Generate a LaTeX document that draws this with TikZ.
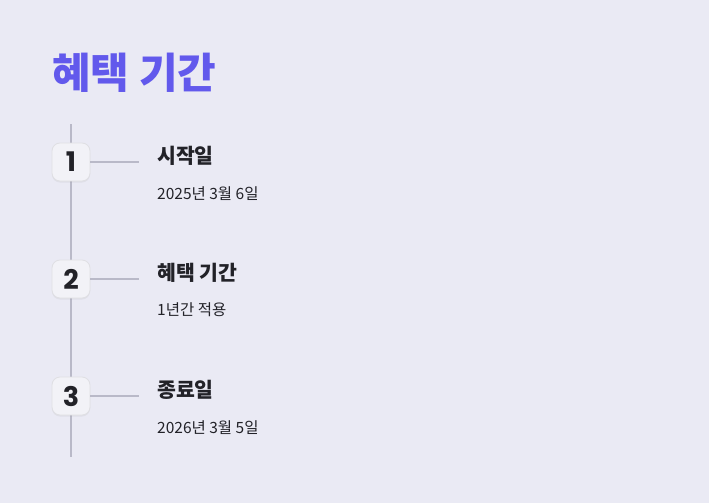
\documentclass[tikz,border=0pt]{standalone}
\usepackage{fontspec, xcolor}
\setmainfont{Noto Sans CJK KR}
\newfontfamily\numfont{Poppins}
\usetikzlibrary{shadows}
\definecolor{pagebg}{HTML}{EAEAF4}
\definecolor{titlecol}{HTML}{6259EC}
\definecolor{linecol}{HTML}{B9B9C8}
\definecolor{boxcol}{HTML}{F2F2F7}
\definecolor{textcol}{HTML}{222228}
\tikzset{
    numbox/.style={draw=boxcol!92!black, fill=boxcol, rounded corners=8pt, minimum width=38pt, minimum height=38pt, inner sep=0pt, line width=0.8pt, drop shadow={opacity=0.10, shadow xshift=0pt, shadow yshift=-1.5pt}, font=\numfont\bfseries\fontsize{27}{27}\selectfont, text=textcol},
    heading/.style={anchor=west, inner sep=0pt, font=\bfseries\fontsize{20.5}{20.5}\selectfont, text=textcol},
    detail/.style={anchor=west, inner sep=0pt, font=\fontsize{15.5}{15.5}\selectfont, text=textcol},
    stem/.style={draw=linecol, line width=1.6pt},
}

\begin{document}
\begin{tikzpicture}[x=1pt, y=-1pt]
    \newcommand\posL{71}
    \newcommand\posT{157}
    \newcommand\rowA{162}
    \newcommand\rowB{279}
    \newcommand\rowC{396}

    \fill[pagebg] (0,0) rectangle (709,503);
    \useasboundingbox (0,0) rectangle (709,503);

    \node[anchor=west, inner sep=0pt, text=titlecol, font=\bfseries\fontsize{42}{42}\selectfont] (title) at (52, 73){혜택 기간};

    % timeline
    \coordinate (top) at (\posL, 124);
    \coordinate (bottom) at (\posL, 457);
    \draw[stem] (top) -- (bottom);

    \coordinate (endA) at (139, \rowA);
    \coordinate (endB) at (139, \rowB);
    \coordinate (endC) at (139, \rowC);

    \node[numbox] (boxA) at (\posL, \rowA){1};
    \node[numbox] (boxB) at (\posL, \rowB){2};
    \node[numbox] (boxC) at (\posL, \rowC){3};

    \draw[stem] (boxA) -- (endA);
    \draw[stem] (boxB) -- (endB);
    \draw[stem] (boxC) -- (endC);

    \node[heading] (headA) at (\posT, 156){시작일};
    \node[detail] (textA) at (\posT, 194){2025년 3월 6일};
    \node[heading] (headB) at (\posT, 273){혜택 기간};
    \node[detail] (textB) at (\posT, 310){1년간 적용};
    \node[heading] (headC) at (\posT, 390){종료일};
    \node[detail] (textC) at (\posT, 428){2026년 3월 5일};
\end{tikzpicture}
\end{document}
